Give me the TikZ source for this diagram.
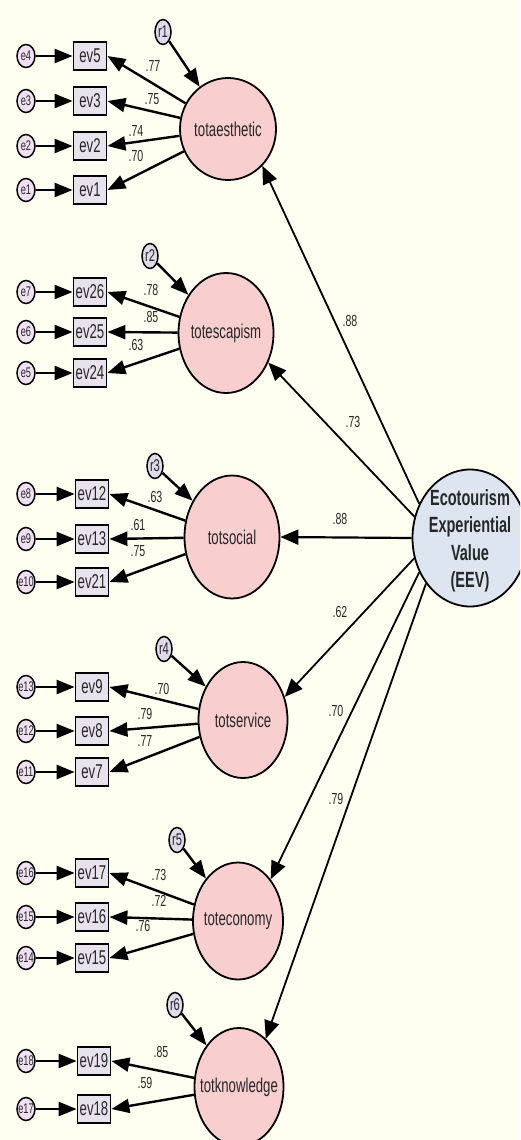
\documentclass[tikz,border=0pt]{standalone}
\usepackage{fontspec}
\setmainfont{Liberation Sans}[FakeStretch=0.66]
\usetikzlibrary{shapes.geometric,arrows.meta}
\definecolor{bgcol}{RGB}{254,255,240}
\definecolor{latfill}{RGB}{248,206,206}
\definecolor{eevfill}{RGB}{220,229,240}
\definecolor{obsfill}{RGB}{232,226,236}
\definecolor{errfill}{RGB}{240,224,242}
\definecolor{resfill}{RGB}{226,218,234}
\definecolor{txt}{RGB}{40,40,40}
\newcommand\zbx[1]{\makebox[0pt]{#1}}
\tikzset{
 lat/.style={ellipse, draw, line width=1.8pt, fill=latfill, inner sep=0pt, text=txt, font=\fontsize{20}{20}\selectfont},
 obs/.style={rectangle, draw, line width=1.8pt, fill=obsfill, minimum width=33pt, minimum height=28pt, inner sep=0pt, text=txt, font=\fontsize{20}{20}\selectfont},
 err/.style={ellipse, draw, line width=1.5pt, fill=errfill, minimum width=18pt, minimum height=23pt, inner sep=0pt, text=txt, font=\fontsize{14}{14}\selectfont},
 res/.style={ellipse, draw, line width=1.5pt, fill=resfill, minimum width=16pt, minimum height=25pt, inner sep=0pt, text=txt, font=\fontsize{17}{17}\selectfont},
 arr/.style={-{Triangle[length=18pt,width=14pt]}, line width=2.4pt},
 sarr/.style={-{Triangle[length=18pt,width=15pt]}, line width=1.8pt},
 coef/.style={font=\fontsize{16}{16}\selectfont, text=txt, inner sep=0pt},
}
\begin{document}
\begin{tikzpicture}[x=1pt,y=-1pt]
\fill[bgcol] (0,0) rectangle (520,1140);
\useasboundingbox (0,0) rectangle (520,1140);
\clip (0,0) rectangle (520,1140);

% latent nodes
\node[lat, minimum width=96pt, minimum height=102pt] (aes) at (228,129) {\zbx{totaesthetic}};
\node[lat, minimum width=95pt, minimum height=120pt] (esc) at (226,333) {\zbx{totescapism}};
\node[lat, minimum width=95pt, minimum height=123pt] (soc) at (232,537) {\zbx{totsocial}};
\node[lat, minimum width=89pt, minimum height=116pt] (ser) at (243,720) {\zbx{totservice}};
\node[lat, minimum width=90pt, minimum height=117pt] (eco) at (238,921) {\zbx{toteconomy}};
\node[lat, minimum width=89pt, minimum height=118pt] (kno) at (239,1087) {\zbx{totknowledge}};
\node[ellipse, draw, line width=1.8pt, fill=eevfill, minimum width=115pt, minimum height=137pt, inner sep=0pt] (EEV) at (470,538) {};
\node[align=center, text=txt, font=\bfseries\fontsize{22}{27.5}\selectfont, inner sep=0pt] (EEVt) at (470,541) {Ecotourism\\Experiential\\Value\\(EEV)};

% residuals
\node[res] (r1) at (163,32) {\zbx{r1}};
\node[res] (r2) at (150,256) {\zbx{r2}};
\node[res] (r3) at (155,466) {\zbx{r3}};
\node[res] (r4) at (164,649) {\zbx{r4}};
\node[res] (r5) at (177,840) {\zbx{r5}};
\node[res] (r6) at (175,1005) {\zbx{r6}};

% observed + errors
\foreach \b/\e/\y/\bx in {ev5/e4/56/90, ev3/e3/101/90, ev2/e2/146/90, ev1/e1/190/90,
  ev26/e7/292/90, ev25/e6/332/90, ev24/e5/373/90,
  ev12/e8/494/92, ev13/e9/539/92, ev21/e10/582/92,
  ev9/e13/687/92, ev8/e12/731/92, ev7/e11/772/92,
  ev17/e16/873/92, ev16/e15/917/92, ev15/e14/958/92,
  ev19/e18/1061/94, ev18/e17/1109/94}{
  \node[obs] (\b) at (\bx,\y) {\b};
  \node[err] (\e) at (26,\y) {\zbx{\e}};
  \draw[arr] (\e) -- (\b);
}

% residual arrows
\draw[arr] (r1) -- (aes);
\draw[arr] (r2) -- (esc);
\draw[arr] (r3) -- (soc);
\draw[arr] (r4) -- (ser);
\draw[arr] (r5) -- (eco);
\draw[arr] (r6) -- (kno);

% loadings
\foreach \l/\b in {aes/ev5, aes/ev3, aes/ev2, aes/ev1, esc/ev26, esc/ev25, esc/ev24,
  soc/ev12, soc/ev13, soc/ev21, ser/ev9, ser/ev8, ser/ev7, eco/ev17, eco/ev16, eco/ev15,
  kno/ev19, kno/ev18}{
  \draw[arr] (\l) -- (\b.east);
}

% structural paths
\draw[sarr] (EEV.146) -- (aes.-47);
\draw[sarr] (EEV.159) -- (esc.-35);
\draw[sarr, line width=2.2pt] (EEV.180) -- (soc.0);
\draw[sarr] (EEV.200) -- (ser.29);
\draw[sarr] (EEV.214) -- (eco.52);
\draw[sarr] (EEV.226) -- (kno.61);

% coefficients
\node[coef] (c1) at (153,66) {.77};
\node[coef] (c2) at (152,99) {.75};
\node[coef] (c3) at (136,131) {.74};
\node[coef] (c4) at (136,156) {.70};
\node[coef] (c5) at (151,290) {.78};
\node[coef] (c6) at (151,317) {.85};
\node[coef] (c7) at (136,345) {.63};
\node[coef] (c8) at (155,497) {.63};
\node[coef] (c9) at (138,525) {.61};
\node[coef] (c10) at (138,551) {.75};
\node[coef] (c11) at (162,689) {.70};
\node[coef] (c12) at (145,714) {.79};
\node[coef] (c13) at (145,741) {.77};
\node[coef] (c14) at (159,875) {.73};
\node[coef] (c15) at (159,901) {.72};
\node[coef] (c16) at (143,926) {.76};
\node[coef] (c17) at (161,1052) {.85};
\node[coef] (c18) at (145,1083) {.59};
\node[coef] (s1) at (350,321) {.88};
\node[coef] (s2) at (353,422) {.73};
\node[coef] (s3) at (340,519) {.88};
\node[coef] (s4) at (340,612) {.62};
\node[coef] (s5) at (336,711) {.70};
\node[coef] (s6) at (336,799) {.79};
\end{tikzpicture}
\end{document}
